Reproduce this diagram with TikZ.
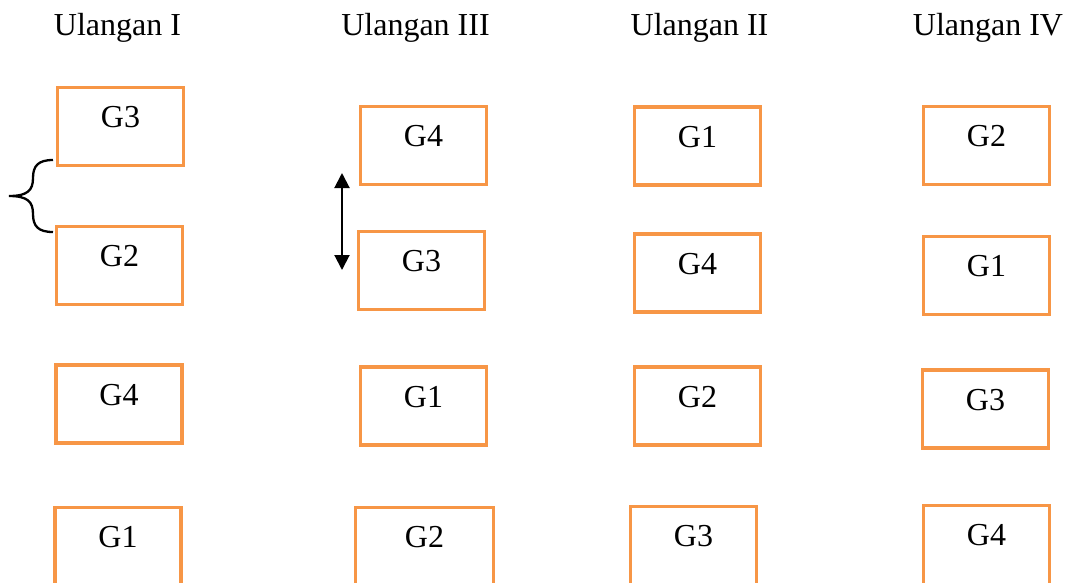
\documentclass[tikz,border=0pt]{standalone}
\usepackage{fontspec}
\setmainfont{Liberation Serif}
\usetikzlibrary{arrows.meta}
\definecolor{boxorange}{HTML}{F79646}
\tikzset{
  plot/.style={draw=boxorange, line width=3.2pt, minimum width=126pt, minimum height=78pt,
    inner sep=0pt, text height=21pt, text depth=19pt,
    font=\fontsize{32}{36}\selectfont},
  % plots in the last row run past the lower edge
  lowplot/.style={plot, minimum height=90pt, text depth=32pt},
  widelow/.style={lowplot, minimum width=138pt},
  heading/.style={anchor=base, inner sep=0pt, font=\fontsize{32}{36}\selectfont},
  swap/.style={line width=2pt, {Triangle[length=15pt,width=15pt]}-{Triangle[length=15pt,width=15pt]}},
  bracket/.style={line width=2.3pt}
}
\begin{document}
\begin{tikzpicture}[x=1pt,y=-1pt]
\useasboundingbox (0,0) rectangle (1073,582);
\clip (0,0) rectangle (1073,582);
\fill[white] (0,0) rectangle (1073,582);

% column headings
\node[heading] (h1) at (117.5,35) {Ulangan I};
\node[heading] (h3) at (415.5,35) {Ulangan III};
\node[heading] (h2) at (699.5,35) {Ulangan II};
\node[heading] (h4) at (988,35) {Ulangan IV};

% Ulangan I
\node[plot] (a1) at (120.5,126.5) {G3};
\node[plot] (a2) at (119.5,265.5) {G2};
\node[plot] (a3) at (119,404) {G4};
\node[lowplot] (a4) at (118,552.6) {G1};

% Ulangan III
\node[plot] (b1) at (423.5,145.5) {G4};
\node[plot] (b2) at (421.5,270.5) {G3};
\node[plot] (b3) at (423.5,406) {G1};
\node[widelow] (b4) at (424.5,552.6) {G2};

% Ulangan II
\node[plot] (c1) at (697.5,146) {G1};
\node[plot] (c2) at (697.5,273) {G4};
\node[plot] (c3) at (697.5,406) {G2};
\node[lowplot] (c4) at (693.5,551.6) {G3};

% Ulangan IV
\node[plot] (d1) at (986.5,145.5) {G2};
\node[plot] (d2) at (986.5,275.5) {G1};
\node[plot] (d3) at (985.5,409) {G3};
\node[lowplot] (d4) at (986.5,550.6) {G4};

% curly bracket between the first two plots of Ulangan I
\coordinate (bt) at (53,160);
\coordinate (bm) at (9,196);
\coordinate (bb) at (53,232);
\draw[bracket] (bt) .. controls (38,160) and (33,166) .. (33,178)
  .. controls (33,190) and (28,196) .. (bm)
  .. controls (28,196) and (33,202) .. (33,214)
  .. controls (33,226) and (38,232) .. (bb);

% double arrow beside Ulangan III
\coordinate (at) at (342,173);
\coordinate (ab) at (342,270);
\draw[swap] (at) -- (ab);
\end{tikzpicture}
\end{document}
